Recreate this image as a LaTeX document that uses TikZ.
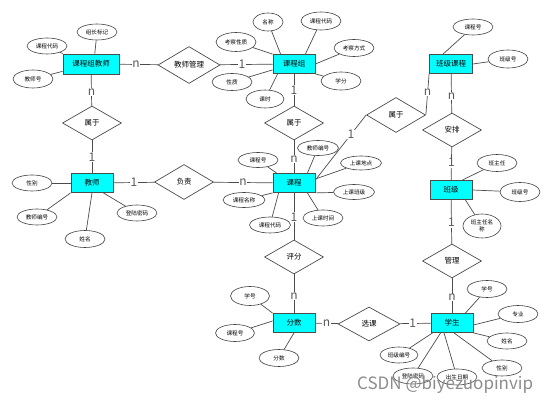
\documentclass[tikz,border=0pt]{standalone}
\usepackage{fontspec}
\setmainfont{Noto Sans CJK SC}
\usetikzlibrary{shapes.geometric, positioning}
\definecolor{qingse}{RGB}{0,255,255}

\begin{document}
\begin{tikzpicture}[
				x=1pt, y=-1pt,
				shiti/.style={draw=black!70, rectangle, fill=qingse, minimum width=42pt, minimum height=19pt, inner sep=1pt, align=center, font=\fontsize{7.5}{8}\selectfont, line width=0.8pt},
				guanxi/.style={draw=black!70, diamond, fill=white, minimum width=59pt, minimum height=34pt, inner sep=0pt, font=\fontsize{7.5}{8}\selectfont, line width=0.7pt},
				shuxing/.style={draw=black!75, ellipse, fill=white, minimum width=40pt, minimum height=16pt, inner sep=0pt, align=center, font=\fontsize{5.6}{6.5}\selectfont, line width=0.6pt},
				xian/.style={draw=black!70, line width=0.7pt},
				jishu/.style={fill=white, inner sep=0.6pt, font=\fontsize{12}{12}\selectfont, text=black!65}
			]
			\useasboundingbox (0,0) rectangle (552,403);

			% Entitas
			\node[shiti, minimum width=56pt, minimum height=20pt] (zujiaoshi) at (91,64) {课程组教师};
			\node[shiti] (kechengzu) at (294,64) {课程组};
			\node[shiti, minimum width=43pt] (banjikc) at (451,64) {班级课程};
			\node[shiti] (jiaoshi) at (92,183) {教师};
			\node[shiti] (kecheng) at (294,183) {课程};
			\node[shiti] (banji) at (451,190) {班级};
			\node[shiti] (fenshu) at (294,323) {分数};
			\node[shiti] (xuesheng) at (452,323) {学生};

			% Relasi
			\node[guanxi, minimum width=62pt, minimum height=36pt] (jsguanli) at (189,65) {教师管理};
			\node[guanxi] (shuyua) at (92,123) {属于};
			\node[guanxi] (shuyub) at (294,123) {属于};
			\node[guanxi, minimum height=35pt] (shuyuc) at (396,115) {属于};
			\node[guanxi] (anpai) at (452,130) {安排};
			\node[guanxi, minimum height=35pt] (fuze) at (184,182) {负责};
			\node[guanxi] (pingfen) at (294,257) {评分};
			\node[guanxi] (guanli) at (452,261) {管理};
			\node[guanxi, minimum width=62pt] (xuanke) at (369,324) {选课};

			% Atribut课程组教师
			\node[shuxing] (zjs_zz) at (97,32) {组长标记};
			\node[shuxing] (zjs_dm) at (47,46) {课程代码};
			\node[shuxing, minimum height=18pt] (zjs_hao) at (33,79) {教师号};
			\draw[xian] (zujiaoshi.70) -- (zjs_zz);
			\draw[xian] (zujiaoshi.north west) -- (zjs_dm);
			\draw[xian] (zujiaoshi) -- (zjs_hao);

			% Atribut课程组
			\node[shuxing, minimum width=30pt, minimum height=18pt] (kcz_mc) at (268,22) {名称};
			\node[shuxing, minimum height=18pt] (kcz_dm) at (321,21) {课程代码};
			\node[shuxing, minimum height=19pt] (kcz_kcxz) at (236,42) {考察性质};
			\node[shuxing, minimum height=17pt] (kcz_kcfs) at (354,48) {考察方式};
			\node[shuxing, minimum height=17pt] (kcz_xz) at (232,82) {性质};
			\node[shuxing, minimum width=38pt, minimum height=18pt] (kcz_ks) at (265,99) {课时};
			\node[shuxing, minimum height=18pt] (kcz_xf) at (341,81) {学分};
			\draw[xian] (kechengzu.north west) ++(8,0) -- (kcz_mc);
			\draw[xian] (kechengzu.north east) ++(-10,0) -- (kcz_dm);
			\draw[xian] (kechengzu.north west) -- (kcz_kcxz);
			\draw[xian] (kechengzu.east) -- (kcz_kcfs);
			\draw[xian] (kechengzu.south west) ++(0,-4) -- (kcz_xz);
			\draw[xian] (kechengzu.south west) ++(5,0) -- (kcz_ks);
			\draw[xian] (kechengzu.south east) -- (kcz_xf);

			% Atribut班级课程
			\node[shuxing] (bjkc_kch) at (473,27) {课程号};
			\node[shuxing, minimum height=18pt] (bjkc_bjh) at (508,59) {班级号};
			\draw[xian] (banjikc.north) ++(-8,0) -- (bjkc_kch);
			\draw[xian] (banjikc.east) -- (bjkc_bjh);

			% Atribut教师
			\node[shuxing] (js_xb) at (32,183) {性别};
			\node[shuxing] (js_bh) at (37,217) {教师编号};
			\node[shuxing, minimum height=17pt] (js_xm) at (85,239) {姓名};
			\node[shuxing] (js_mm) at (137,213) {登陆密码};
			\draw[xian] (jiaoshi) -- (js_xb);
			\draw[xian] (jiaoshi.south west) -- (js_bh);
			\draw[xian] (jiaoshi.south) -- (js_xm);
			\draw[xian] (jiaoshi.south east) ++(-10,0) -- (js_mm);

			% Atribut课程
			\node[shuxing, minimum height=15pt] (kc_kch) at (258,160) {课程号};
			\node[shuxing, minimum width=41pt, minimum height=15pt] (kc_jsbh) at (318,148) {教师编号};
			\node[shuxing, minimum width=41pt, minimum height=14pt] (kc_dd) at (361,163) {上课地点};
			\node[shuxing, minimum width=41pt, minimum height=15pt] (kc_bj) at (354,192) {上课班级};
			\node[shuxing, minimum width=40pt, minimum height=16pt] (kc_sj) at (323,218) {上课时间};
			\node[shuxing, minimum width=42pt, minimum height=15pt] (kc_mc) at (244,200) {课程名称};
			\node[shuxing, minimum width=41pt, minimum height=16pt] (kc_dm) at (270,225) {课程代码};
			\draw[xian] (kecheng.north west) ++(4,0) -- (kc_kch);
			\draw[xian] (kecheng.north east) ++(-8,0) -- (kc_jsbh);
			\draw[xian] (kecheng.east) ++(0,-4) -- (kc_dd);
			\draw[xian] (kecheng.south east) -- (kc_bj);
			\draw[xian] (kecheng.south east) ++(-8,0) -- (kc_sj);
			\draw[xian] (kecheng.south west) -- (kc_mc);
			\draw[xian] (kecheng.south west) ++(6,0) -- (kc_dm);

			% Atribut班级
			\node[shuxing, minimum height=17pt] (bj_bzr) at (497,163) {班主任};
			\node[shuxing, minimum height=19pt] (bj_bjh) at (520,192) {班级号};
			\node[shuxing, minimum width=38pt, minimum height=24pt] (bj_mc) at (482,226) {班主任名\\称};
			\draw[xian] (banji.north east) ++(-10,0) -- (bj_bzr);
			\draw[xian] (banji.east) -- (bj_bjh);
			\draw[xian] (banji.south east) ++(-7,0) -- (bj_mc);

			% Atribut分数
			\node[shuxing, minimum width=39pt, minimum height=19pt] (fs_xh) at (250,296) {学号};
			\node[shuxing, minimum width=39pt, minimum height=17pt] (fs_kch) at (235,333) {课程号};
			\node[shuxing, minimum height=17pt] (fs_fs) at (279,358) {分数};
			\draw[xian] (fenshu.north west) -- (fs_xh);
			\draw[xian] (fenshu.west) ++(0,-2) -- (fs_kch);
			\draw[xian] (fenshu.south) -- (fs_fs);

			% Atribut学生
			\node[shuxing, minimum height=17pt] (xs_xh) at (487,289) {学号};
			\node[shuxing, minimum height=17pt] (xs_zy) at (518,314) {专业};
			\node[shuxing] (xs_xm) at (507,341) {姓名};
			\node[shuxing] (xs_xb) at (502,368) {性别};
			\node[shuxing, minimum width=38pt] (xs_bjbh) at (399,355) {班级编号};
			\node[shuxing] (xs_mm) at (413,376) {登陆密码};
			\node[shuxing] (xs_sr) at (457,377) {出生日期};
			\draw[xian] (xuesheng.north east) ++(-8,0) -- (xs_xh);
			\draw[xian] (xuesheng.east) ++(0,2) -- (xs_zy);
			\draw[xian] (xuesheng.south east) -- (xs_xm);
			\draw[xian] (xuesheng.south) ++(2,0) -- (xs_xb);
			\draw[xian] (xuesheng.south west) ++(2,0) -- (xs_bjbh);
			\draw[xian] (xuesheng.south west) ++(10,0) -- (xs_mm);
			\draw[xian] (xuesheng.south) ++(-8,0) -- (xs_sr);

			% Garis relasi
			\draw[xian] (zujiaoshi) -- node[jishu, pos=0.43] {n} (jsguanli);
			\draw[xian] (jsguanli) -- node[jishu, pos=0.42] {1} (kechengzu);
			\draw[xian] (zujiaoshi) -- node[jishu, pos=0.55] {n} (shuyua);
			\draw[xian] (shuyua) -- node[jishu, pos=0.5] {1} (jiaoshi);
			\draw[xian] (kechengzu) -- node[jishu, pos=0.5] {1} (shuyub);
			\draw[xian] (shuyub) -- node[jishu, pos=0.57] {n} (kecheng);
			\draw[xian] (kecheng.8) -- node[jishu, pos=0.7] {1} (shuyuc.west);
			\draw[xian] (shuyuc.east) -- node[jishu, pos=0.55] {n} (banjikc.south west);
			\draw[xian] (banjikc) -- node[jishu, pos=0.57] {n} (anpai);
			\draw[xian] (anpai) -- node[jishu, pos=0.47] {1} (banji);
			\draw[xian] (jiaoshi) -- node[jishu, pos=0.5] {1} (fuze);
			\draw[xian] (fuze) -- node[jishu, pos=0.5] {n} (kecheng);
			\draw[xian] (kecheng) -- node[jishu, pos=0.52] {1} (pingfen);
			\draw[xian] (pingfen) -- node[jishu, pos=0.57] {n} (fenshu);
			\draw[xian] (banji) -- node[jishu, pos=0.52] {1} (guanli);
			\draw[xian] (guanli) -- node[jishu, pos=0.55] {n} (xuesheng);
			\draw[xian] (fenshu) -- node[jishu, pos=0.48] {n} (xuanke);
			\draw[xian] (xuanke) -- node[jishu, pos=0.42] {1} (xuesheng);

			% Watermark
			\node[anchor=base west, inner sep=0pt, text=black!45, font=\fontsize{17}{17}\selectfont] (csdn) at (357,390) {CSDN @biyezuopinvip};
		\end{tikzpicture}
\end{document}
